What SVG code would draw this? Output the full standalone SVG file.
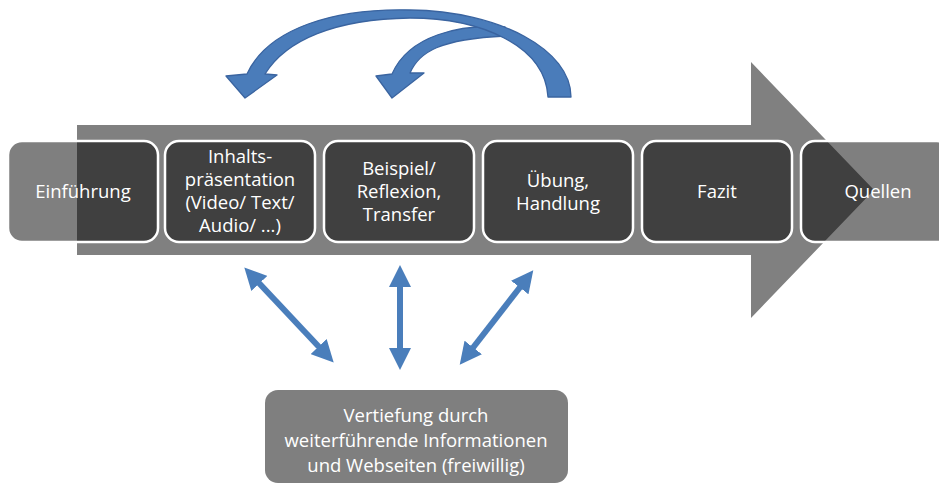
<svg xmlns="http://www.w3.org/2000/svg" width="939" height="485" viewBox="0 0 939 485">
  <style>
    .box { fill: #000000; fill-opacity: 0.5; stroke: #ffffff; stroke-width: 2.5; }
    .lbl { font-family: "Open Sans", "Noto Sans", "DejaVu Sans", sans-serif; font-size: 18.5px; fill: #ffffff; text-anchor: middle; }
    .dbl { stroke: #4a7ebb; stroke-width: 6; fill: none; marker-start: url(#head); marker-end: url(#head); }
    .curve { fill: #4a7cba; stroke: #3a64a0; stroke-width: 1.3; stroke-linejoin: round; }
  </style>
  <defs>
    <marker id="head" viewBox="0 0 22 22" markerUnits="userSpaceOnUse" markerWidth="22" markerHeight="22" refX="2" refY="11" orient="auto-start-reverse">
      <path d="M0,0 L22,11 L0,22 Z" fill="#4a7ebb"/>
    </marker>
  </defs>

  <g id="process-arrow">
    <polygon points="77,125 751,125 751,62 874,190 751,318 751,255 77,255" fill="#808080"/>
  </g>

  <g id="einfuehrung">
    <rect class="box" x="8" y="141" width="150" height="101" rx="14"/>
    <text class="lbl" x="83" y="198">Einführung</text>
  </g>
  <g id="inhaltspraesentation">
    <rect class="box" x="165" y="141" width="150" height="101" rx="14"/>
    <text class="lbl" x="240" y="163">Inhalts-</text>
    <text class="lbl" x="240" y="186">präsentation</text>
    <text class="lbl" x="240" y="209">(Video/ Text/</text>
    <text class="lbl" x="240" y="232">Audio/ ...)</text>
  </g>
  <g id="beispiel">
    <rect class="box" x="324" y="141" width="150" height="101" rx="14"/>
    <text class="lbl" x="399" y="175">Beispiel/</text>
    <text class="lbl" x="399" y="198">Reflexion,</text>
    <text class="lbl" x="399" y="221">Transfer</text>
  </g>
  <g id="uebung">
    <rect class="box" x="483" y="141" width="150" height="101" rx="14"/>
    <text class="lbl" x="558" y="187">Übung,</text>
    <text class="lbl" x="558" y="210">Handlung</text>
  </g>
  <g id="fazit">
    <rect class="box" x="642" y="141" width="150" height="101" rx="14"/>
    <text class="lbl" x="717" y="198">Fazit</text>
  </g>
  <g id="quellen">
    <rect class="box" x="801" y="141" width="150" height="101" rx="14"/>
    <text class="lbl" x="878" y="198">Quellen</text>
  </g>

  <g id="vertiefung">
    <rect x="265" y="390" width="303" height="93" rx="13" fill="#7f7f7f"/>
    <text class="lbl" x="416" y="422">Vertiefung durch</text>
    <text class="lbl" x="416" y="447">weiterführende Informationen</text>
    <text class="lbl" x="416" y="472">und Webseiten (freiwillig)</text>
  </g>

  <g id="connectors">
    <path class="curve" d="M 505,27 C 460,24 409,35 392,74 L 376,76 L 392,98 L 424,73 L 410,73 C 419,52 440,39 505,36 Z"/>
    <path class="curve" d="M 571,97 C 571,50 500,11 410,10 C 335,8 268,28 247,74 L 226,76 L 245,98 L 277,75 L 265,74 C 286,40 335,19 410,18 C 480,18 545,45 548,97 Z"/>
    <line class="dbl" x1="258" y1="282" x2="320" y2="348"/>
    <line class="dbl" x1="400" y1="285" x2="400" y2="350"/>
    <line class="dbl" x1="521" y1="286" x2="472" y2="349"/>
  </g>
</svg>
